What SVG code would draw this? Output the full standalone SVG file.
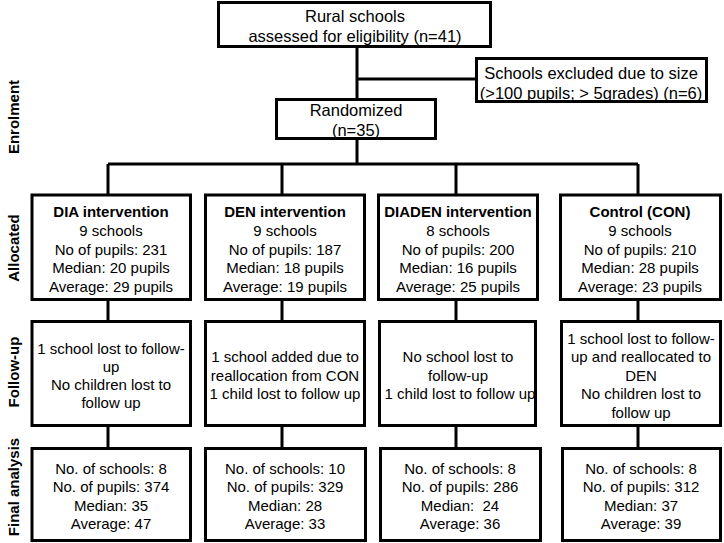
<svg xmlns="http://www.w3.org/2000/svg" width="724" height="543" viewBox="0 0 724 543">
<style>
.box{fill:#fff;stroke:#000;stroke-width:3}
.ln{fill:none;stroke:#000;stroke-width:3}
text{font-family:"Liberation Sans",Arial,sans-serif;font-size:15px;fill:#000;text-anchor:middle}
.big{font-size:16.5px}
.b{font-weight:bold}
.side{font-weight:bold;font-size:15px}
</style>
<rect width="724" height="543" fill="#fff"/>
<g id="connectors">
<path class="ln" d="M357,48 V98 M357,79 H476 M357,140 V164 M108,164 H638 M108,164 V194 M282,164 V194 M456,164 V194 M638,164 V194"/>
<path class="ln" d="M108,301 V320 M282,301 V320 M456,301 V320 M638,301 V320"/>
<path class="ln" d="M108,427 V447 M282,427 V447 M456,427 V447 M638,427 V447"/>
</g>
<g id="labels">
<text class="side" transform="translate(19,117) rotate(-90)">Enrolment</text>
<text class="side" transform="translate(19,248) rotate(-90)">Allocated</text>
<text class="side" transform="translate(19,372) rotate(-90)">Follow-up</text>
<text class="side" transform="translate(19,487) rotate(-90)">Final analysis</text>
</g>
<g id="rural">
<rect class="box" x="218.5" y="2.5" width="272" height="44"/>
<text class="big" x="355" y="21.5">Rural schools</text>
<text class="big" x="355" y="41.5">assessed for eligibility (n=41)</text>
</g>
<g id="excluded">
<rect class="box" x="476.5" y="58.5" width="230" height="43"/>
<text class="big" x="591" y="79">Schools excluded due to size</text>
<text class="big" x="591" y="99">(&gt;100 pupils; &gt; 5grades) (n=6)</text>
</g>
<g id="randomized">
<rect class="box" x="276.5" y="99.5" width="159" height="39"/>
<text class="big" x="356" y="116">Randomized</text>
<text class="big" x="356" y="136">(n=35)</text>
</g>
<g id="alloc-dia">
<rect class="box" x="32" y="195" width="158.5" height="104.5"/>
<text class="b" x="111" y="217">DIA intervention</text>
<text x="111" y="236">9 schools</text>
<text x="111" y="254.5">No of pupils: 231</text>
<text x="111" y="273">Median: 20 pupils</text>
<text x="111" y="291.5">Average: 29 pupils</text>
</g>
<g id="alloc-den">
<rect class="box" x="205.5" y="195" width="159" height="104.5"/>
<text class="b" x="285" y="217">DEN intervention</text>
<text x="285" y="236">9 schools</text>
<text x="285" y="254.5">No of pupils: 187</text>
<text x="285" y="273">Median: 18 pupils</text>
<text x="285" y="291.5">Average: 19 pupils</text>
</g>
<g id="alloc-diaden">
<rect class="box" x="378.5" y="195" width="159" height="104.5"/>
<text class="b" x="458" y="217">DIADEN intervention</text>
<text x="458" y="236">8 schools</text>
<text x="458" y="254.5">No of pupils: 200</text>
<text x="458" y="273">Median: 16 pupils</text>
<text x="458" y="291.5">Average: 25 pupils</text>
</g>
<g id="alloc-con">
<rect class="box" x="560.5" y="195" width="160" height="104.5"/>
<text class="b" x="640" y="217">Control (CON)</text>
<text x="640" y="236">9 schools</text>
<text x="640" y="254.5">No of pupils: 210</text>
<text x="640" y="273">Median: 28 pupils</text>
<text x="640" y="291.5">Average: 23 pupils</text>
</g>
<g id="fu-dia">
<rect class="box" x="32" y="321.5" width="158.5" height="104"/>
<text x="111" y="353.5">1 school lost to follow-</text>
<text x="111" y="371.5">up</text>
<text x="111" y="389.5">No children lost to</text>
<text x="111" y="408">follow up</text>
</g>
<g id="fu-den">
<rect class="box" x="205.5" y="321.5" width="159" height="104"/>
<text x="285" y="362">1 school added due to</text>
<text x="285" y="380.5">reallocation from CON</text>
<text x="285" y="399">1 child lost to follow up</text>
</g>
<g id="fu-diaden">
<rect class="box" x="379.5" y="321.5" width="156" height="104"/>
<text x="458" y="362">No school lost to</text>
<text x="458" y="380.5">follow-up</text>
<text x="460" y="399">1 child lost to follow up</text>
</g>
<g id="fu-con">
<rect class="box" x="561.5" y="321.5" width="159" height="104"/>
<text x="641" y="343.5">1 school lost to follow-</text>
<text x="641" y="362">up and reallocated to</text>
<text x="641" y="380.5">DEN</text>
<text x="641" y="399">No children lost to</text>
<text x="641" y="417.5">follow up</text>
</g>
<g id="final-dia">
<rect class="box" x="32" y="448.5" width="158.5" height="92"/>
<text x="111" y="473.5">No. of schools: 8</text>
<text x="111" y="492">No. of pupils: 374</text>
<text x="111" y="510.5">Median: 35</text>
<text x="111" y="529">Average: 47</text>
</g>
<g id="final-den">
<rect class="box" x="205.5" y="448.5" width="160" height="92"/>
<text x="285" y="473.5">No. of schools: 10</text>
<text x="285" y="492">No. of pupils: 329</text>
<text x="285" y="510.5">Median: 28</text>
<text x="285" y="529">Average: 33</text>
</g>
<g id="final-diaden">
<rect class="box" x="380.5" y="448.5" width="160" height="92"/>
<text x="460" y="473.5">No. of schools: 8</text>
<text x="460" y="492">No. of pupils: 286</text>
<text x="460" y="510.5" xml:space="preserve">Median:  24</text>
<text x="460" y="529">Average: 36</text>
</g>
<g id="final-con">
<rect class="box" x="562.5" y="448.5" width="158" height="92"/>
<text x="641" y="473.5">No. of schools: 8</text>
<text x="641" y="492">No. of pupils: 312</text>
<text x="641" y="510.5">Median: 37</text>
<text x="641" y="529">Average: 39</text>
</g>
</svg>
